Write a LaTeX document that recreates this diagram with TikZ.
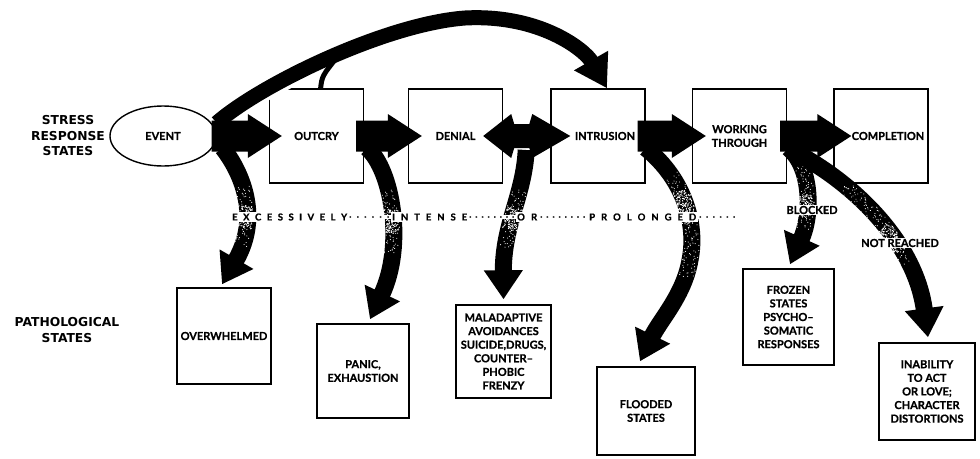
\documentclass[tikz,border=0pt]{standalone}
\usepackage{fontspec}
\setmainfont{Lato}[BoldFeatures={FakeBold=0.8}]
\newfontfamily\dgheavy{DejaVu Sans}
\usetikzlibrary{shapes.geometric,arrows.meta,calc,decorations.markings}

\newcommand\dgboxfont{\fontsize{11}{13.6}\selectfont\bfseries}
\newcommand\dgheadfont{\dgheavy\fontsize{12.3}{15.5}\selectfont\bfseries}
\newcommand\dglinefont{\fontsize{9.5}{10}\selectfont\bfseries}

% straight block arrow from a start point to its tip, both on one horizontal
\newcommand\dgblock[2]{%
  \fill let \p1=(#1), \p2=(#2) in
    (\x1,\y1+15.5pt) -- (\x2-34pt,\y1+15.5pt) -- (\x2-34pt,\y1+22pt) -- (\x2,\y2)
    -- (\x2-34pt,\y1-22pt) -- (\x2-34pt,\y1-15.5pt) -- (\x1,\y1-15.5pt) -- cycle;}

\begin{document}
\begin{tikzpicture}[x=1pt,y=-1pt,
  box/.style={draw,line width=1.4pt,inner sep=0pt,align=center,font=\dgboxfont},
  heading/.style={align=center,inner sep=0pt,font=\dgheadfont},
  lineword/.style={fill=white,inner xsep=1.5pt,inner ysep=1.5pt,anchor=west,font=\dglinefont},
  sidelabel/.style={fill=white,inner sep=1pt,font=\dgboxfont},
  downarr/.style={line width=17pt,-{Triangle[length=29pt,width=37pt]}},
  speckle/.style n args={4}{postaction={decorate,decoration={markings,
    mark=between positions #1 and #2 step 0.8pt with
      {\fill[white] ({rand*0.4pt},{rand*7.5pt}) circle (0.55pt);},
    mark=between positions #3 and #4 step 0.6pt with
      {\foreach \k in {1,2,3}{\fill[white] ({rand*0.4pt},{rand*8pt}) circle (0.65pt);}}}}}]

\pgfmathsetseed{7}
\fill[white] (0,0) rectangle (980,458);
\useasboundingbox (0,0) rectangle (980,458);

% ---- stress response states (top row)
\node[ellipse,draw,line width=1.4pt,minimum width=106pt,minimum height=60pt,
      inner sep=0pt,font=\dgboxfont] (event) at (163,136) {EVENT};
\node[box,minimum width=94pt,minimum height=94pt] (outcry) at (316.5,136) {OUTCRY};
\node[box,minimum width=94pt,minimum height=94pt] (denial) at (455.5,136) {DENIAL};
\node[box,minimum width=94pt,minimum height=94pt] (intrusion) at (598,136) {\hspace*{14pt}INTRUSION};
\node[box,minimum width=94pt,minimum height=94pt] (working) at (739.5,136) {WORKING\\THROUGH};
\node[box,minimum width=94pt,minimum height=94pt] (completion) at (881,136) {\hspace*{14pt}COMPLETION};

% ---- pathological states (bottom row)
\node[box,minimum width=94pt,minimum height=96pt] (overwhelmed) at (224,336) {OVERWHELMED};
\node[box,minimum width=92pt,minimum height=94pt] (panic) at (363,371) {PANIC,\\EXHAUSTION};
\node[box,minimum width=95pt,minimum height=93pt] (maladaptive) at (503.5,351.5)
  {MALADAPTIVE\\AVOIDANCES\\\makebox[0pt]{SUICIDE,DRUGS,}\\COUNTER--\\PHOBIC\\FRENZY};
\node[box,minimum width=98pt,minimum height=88pt] (flooded) at (646,411) {FLOODED\\STATES};
\node[box,minimum width=91pt,minimum height=96pt] (frozen) at (788.5,317)
  {FROZEN\\STATES\\PSYCHO--\\SOMATIC\\RESPONSES};
\node[box,minimum width=96pt,minimum height=97pt] (inability) at (927,391.5)
  {INABILITY\\TO ACT\\OR LOVE;\\CHARACTER\\DISTORTIONS};

% ---- row headings
\node[heading] (srs) at (68,136) {STRESS\\RESPONSE\\STATES};
\node[heading] (path) at (67,330) {PATHOLOGICAL\\STATES};

% ---- the long arc from event (and outcry) over to intrusion
\coordinate (arcA) at ($(event.east)+(0,-13)$);
\coordinate (arcB) at ($(intrusion.north)+(9,0)$);
\coordinate (brA) at ($(outcry.north)+(4,1)$);
\draw[white,line width=24pt,shorten <=14pt,shorten >=36pt]
  (arcA) .. controls (260,85) and (385,24) .. (465,18)
         .. controls (540,14) and (585,50) .. (arcB);
\draw[line width=15pt,-{Triangle[length=32pt,width=37pt]}]
  (arcA) .. controls (260,85) and (385,24) .. (465,18)
         .. controls (540,14) and (585,50) .. (arcB);
\draw[line width=5pt] (brA) .. controls (322,76) .. (338,56);

% ---- block arrows along the top row
\coordinate (a1s) at ($(event.east)+(-5,0)$);
\coordinate (a1e) at ($(outcry.west)+(13,0)$);
\coordinate (a2s) at ($(outcry.east)+(-8,0)$);
\coordinate (a2e) at ($(denial.west)+(14,0)$);
\coordinate (a3l) at ($(denial.east)+(-20,0)$);
\coordinate (a3r) at ($(intrusion.west)+(20,0)$);
\coordinate (a4s) at ($(intrusion.east)+(-8,0)$);
\coordinate (a4e) at ($(working.west)+(14,0)$);
\coordinate (a5s) at ($(working.east)+(-7,0)$);
\coordinate (a5e) at ($(completion.west)+(18,0)$);
\dgblock{a1s}{a1e}
\dgblock{a2s}{a2e}
\dgblock{a4s}{a4e}
\dgblock{a5s}{a5e}
\fill let \p1=(a3l), \p2=(a3r) in
  (\x1,\y1) -- (\x1+28pt,\y1+22pt) -- (\x1+31pt,\y1+12pt) -- (\x2-41pt,\y1+12pt)
  -- (\x2-38pt,\y1+22pt) -- (\x2,\y2) -- (\x2-38pt,\y1-22pt) -- (\x2-41pt,\y1-12pt)
  -- (\x1+31pt,\y1-12pt) -- (\x1+28pt,\y1-22pt) -- cycle;

% ---- curved arrows down to the pathological states
\coordinate (d1s) at ($(event.east)+(6,12)$);
\coordinate (d1e) at ($(overwhelmed.north)+(-2,-3)$);
\coordinate (d2s) at ($(outcry.east)+(3,12)$);
\coordinate (d2e) at ($(panic.north)+(7,-4)$);
\coordinate (d3s) at ($(denial.east)+(23,14)$);
\coordinate (d3e) at ($(maladaptive.north)+(0,-5)$);
\coordinate (d4s) at ($(intrusion.east)+(0,12)$);
\coordinate (d4e) at ($(flooded.north)+(-6,-5)$);
\coordinate (d5s) at ($(working.east)+(1.5,12)$);
\coordinate (d5e) at ($(frozen.north)+(1.5,-4)$);
\coordinate (d6s) at ($(working.east)+(3.5,14)$);
\coordinate (d6e) at ($(inability.north)+(1,-5)$);

\draw[downarr,speckle={0.3}{0.7}{0.43}{0.58}]
  (d1s) .. controls (240,170) and (262,215) .. (d1e);
\draw[downarr,speckle={0.27}{0.62}{0.37}{0.5}]
  (d2s) .. controls (392,170) and (405,245) .. (d2e);
\draw[downarr,speckle={0.27}{0.66}{0.39}{0.54}]
  (d3s) .. controls (524,195) and (503,225) .. (d3e);
\draw[downarr,speckle={0.16}{0.6}{0.23}{0.37}]
  (d4s) .. controls (685,180) and (697,225) .. (690,260)
        .. controls (684,295) and (660,320) .. (d4e);
\draw[downarr,speckle={0.18}{0.7}{0.42}{0.6}]
  (d5s) .. controls (812,168) and (812,215) .. (d5e);
\draw[downarr,speckle={0.27}{0.68}{0.5}{0.62}]
  (d6s) .. controls (850,180) and (915,240) .. (d6e);

% ---- the spaced-out line between the rows
\node[lineword] (w1) at (230.5,217) {\makebox[115pt][s]{E\hfill X\hfill C\hfill E\hfill S\hfill S\hfill I\hfill V\hfill E\hfill L\hfill Y}};
\node[lineword] (p1) at (347.5,217) {\makebox[40pt][s]{.\hfill.\hfill.\hfill.\hfill.\hfill.}};
\node[lineword] (w2) at (390.5,217) {\makebox[75pt][s]{I\hfill N\hfill T\hfill E\hfill N\hfill S\hfill E}};
\node[lineword] (p2) at (467.5,217) {\makebox[45pt][s]{.\hfill.\hfill.\hfill.\hfill.\hfill.\hfill.\hfill.}};
\node[lineword] (w3) at (515.5,217) {\makebox[20pt][s]{O\hfill R}};
\node[lineword] (p3) at (538.5,217) {\makebox[45pt][s]{.\hfill.\hfill.\hfill.\hfill.\hfill.\hfill.\hfill.}};
\node[lineword] (w4) at (587.5,217) {\makebox[107pt][s]{P\hfill R\hfill O\hfill L\hfill O\hfill N\hfill G\hfill E\hfill D}};
\node[lineword] (p4) at (697.5,217) {\makebox[36pt][s]{.\hfill.\hfill.\hfill.\hfill.\hfill.}};

% ---- labels on the last two arrows
\node[sidelabel] (blocked) at (812,210) {BLOCKED};
\node[sidelabel] (notreached) at (900,243) {NOT REACHED};
\end{tikzpicture}
\end{document}
